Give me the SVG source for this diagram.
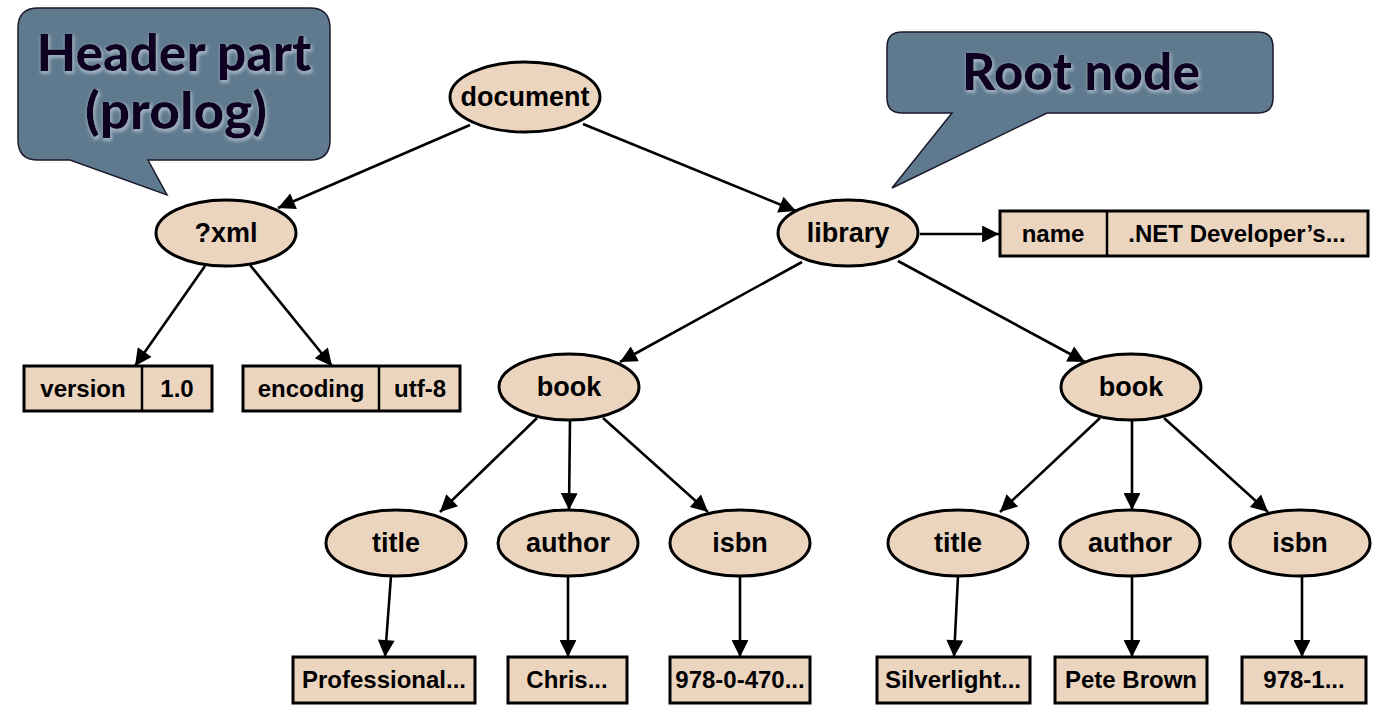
<svg xmlns="http://www.w3.org/2000/svg" width="1378" height="708" viewBox="0 0 1378 708">
<defs>
<marker id="ah" viewBox="0 0 10 10" refX="10" refY="5" markerWidth="7.5" markerHeight="6.5" markerUnits="strokeWidth" orient="auto">
<path d="M0,0 L10,5 L0,10 z" fill="#000"/>
</marker>
<filter id="glow" x="-10%" y="-20%" width="120%" height="140%">
<feMorphology in="SourceAlpha" operator="dilate" radius="1" result="d"/>
<feGaussianBlur in="d" stdDeviation="1.5" result="b"/>
<feOffset in="b" dx="1" dy="2" result="o"/>
<feFlood flood-color="#b8c4d0" flood-opacity="0.7"/>
<feComposite in2="o" operator="in" result="g"/>
<feMerge><feMergeNode in="g"/><feMergeNode in="SourceGraphic"/></feMerge>
</filter>
</defs>
<style>
.n{fill:#ecd5bf;stroke:#000;stroke-width:3}
.b{fill:#ecd5bf;stroke:#000;stroke-width:3}
.d{stroke:#000;stroke-width:2.5}
.t{font-family:"Liberation Sans",Arial,sans-serif;font-weight:bold;font-size:27px;fill:#000;text-anchor:middle}
.bt{font-family:"Liberation Sans",Arial,sans-serif;font-weight:bold;font-size:24px;fill:#000;text-anchor:middle}
.c{fill:#5f7a8f;stroke:#1a1a2a;stroke-width:1.5}
.ct{font-family:Lato,"Noto Sans",sans-serif;font-weight:900;font-size:52px;fill:#0a0020;text-anchor:middle}
.e{stroke:#000;stroke-width:2.6;fill:none;marker-end:url(#ah)}
</style>
<rect width="1378" height="708" fill="#fff"/>

<g id="callout-header">
<path class="c" d="M38,8 H310 Q330,8 330,28 V140 Q330,160 310,160 H148 L167,195 L70,160 H38 Q18,160 18,140 V28 Q18,8 38,8 Z"/>
<text class="ct" x="174" y="71" textLength="275" lengthAdjust="spacingAndGlyphs" filter="url(#glow)">Header part</text>
<text class="ct" x="176" y="129" textLength="182" lengthAdjust="spacingAndGlyphs" filter="url(#glow)">(prolog)</text>
</g>
<g id="callout-root">
<path class="c" d="M902,32 H1258 Q1273,32 1273,47 V98 Q1273,113 1258,113 H1047 L892,188 L952,113 H902 Q887,113 887,98 V47 Q887,32 902,32 Z"/>
<text class="ct" x="1081" y="90" textLength="238" lengthAdjust="spacingAndGlyphs" filter="url(#glow)">Root node</text>
</g>

<g id="connectors">
<line class="e" x1="470" y1="125" x2="278" y2="208"/>
<line class="e" x1="583" y1="124" x2="796" y2="211"/>
<line class="e" x1="205" y1="266" x2="135" y2="366"/>
<line class="e" x1="250" y1="265" x2="332" y2="366"/>
<line class="e" x1="920" y1="234" x2="999" y2="234"/>
<line class="e" x1="802" y1="262" x2="620" y2="362"/>
<line class="e" x1="898" y1="261" x2="1085" y2="362"/>
<line class="e" x1="537" y1="418" x2="440" y2="512"/>
<line class="e" x1="570" y1="420" x2="569" y2="510"/>
<line class="e" x1="603" y1="418" x2="708" y2="512"/>
<line class="e" x1="1100" y1="418" x2="1000" y2="512"/>
<line class="e" x1="1132" y1="420" x2="1132" y2="510"/>
<line class="e" x1="1164" y1="418" x2="1268" y2="512"/>
<line class="e" x1="391" y1="576" x2="385" y2="657"/>
<line class="e" x1="568" y1="576" x2="568" y2="657"/>
<line class="e" x1="740" y1="576" x2="740" y2="657"/>
<line class="e" x1="958" y1="576" x2="954" y2="657"/>
<line class="e" x1="1132" y1="576" x2="1132" y2="657"/>
<line class="e" x1="1302" y1="576" x2="1302" y2="657"/>
</g>

<g id="document"><ellipse class="n" cx="525" cy="97" rx="75" ry="35"/><text class="t" x="525" y="106">document</text></g>
<g id="xml"><ellipse class="n" cx="226" cy="233" rx="70" ry="33"/><text class="t" x="226" y="242">?xml</text></g>
<g id="library"><ellipse class="n" cx="848" cy="233" rx="70" ry="33"/><text class="t" x="848" y="242">library</text></g>
<g id="book1"><ellipse class="n" cx="569" cy="387" rx="70" ry="33"/><text class="t" x="569" y="396">book</text></g>
<g id="book2"><ellipse class="n" cx="1131" cy="387" rx="70" ry="33"/><text class="t" x="1131" y="396">book</text></g>
<g id="title1"><ellipse class="n" cx="396" cy="543" rx="70" ry="33"/><text class="t" x="396" y="552">title</text></g>
<g id="author1"><ellipse class="n" cx="568" cy="543" rx="70" ry="33"/><text class="t" x="568" y="552">author</text></g>
<g id="isbn1"><ellipse class="n" cx="740" cy="543" rx="70" ry="33"/><text class="t" x="740" y="552">isbn</text></g>
<g id="title2"><ellipse class="n" cx="958" cy="543" rx="70" ry="33"/><text class="t" x="958" y="552">title</text></g>
<g id="author2"><ellipse class="n" cx="1130" cy="543" rx="70" ry="33"/><text class="t" x="1130" y="552">author</text></g>
<g id="isbn2"><ellipse class="n" cx="1300" cy="543" rx="70" ry="33"/><text class="t" x="1300" y="552">isbn</text></g>

<g id="attr-version"><rect class="b" x="24" y="366" width="188" height="45"/><line class="d" x1="142" y1="366" x2="142" y2="411"/><text class="bt" x="83" y="397">version</text><text class="bt" x="177" y="397">1.0</text></g>
<g id="attr-encoding"><rect class="b" x="243" y="366" width="217" height="45"/><line class="d" x1="379" y1="366" x2="379" y2="411"/><text class="bt" x="311" y="397">encoding</text><text class="bt" x="420" y="397">utf-8</text></g>
<g id="attr-name"><rect class="b" x="1000" y="211" width="368" height="45"/><line class="d" x1="1107" y1="211" x2="1107" y2="256"/><text class="bt" x="1053" y="242">name</text><text class="bt" x="1237" y="242">.NET Developer’s...</text></g>

<g id="v-title1"><rect class="b" x="293" y="657" width="182" height="46"/><text class="bt" x="384" y="688">Professional...</text></g>
<g id="v-author1"><rect class="b" x="508" y="657" width="119" height="46"/><text class="bt" x="567" y="688">Chris...</text></g>
<g id="v-isbn1"><rect class="b" x="670" y="657" width="140" height="46"/><text class="bt" x="740" y="688">978-0-470...</text></g>
<g id="v-title2"><rect class="b" x="877" y="657" width="153" height="46"/><text class="bt" x="953" y="688">Silverlight...</text></g>
<g id="v-author2"><rect class="b" x="1055" y="657" width="152" height="46"/><text class="bt" x="1131" y="688">Pete Brown</text></g>
<g id="v-isbn2"><rect class="b" x="1242" y="657" width="124" height="46"/><text class="bt" x="1304" y="688">978-1...</text></g>
</svg>
